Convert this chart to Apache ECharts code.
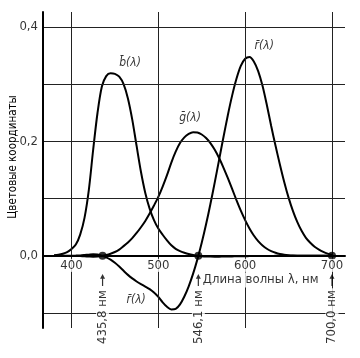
<!DOCTYPE html>
<html>
<head>
<meta charset="utf-8">
<script src="https://cdn.jsdelivr.net/npm/echarts@6/dist/echarts.min.js"></script>
<style>html,body{margin:0;padding:0;background:#fff;}#c{width:360px;height:358px;}</style>
</head>
<body>
<div id="c"></div>
<script>
const wavelengths = [380,385,390,395,400,405,410,415,420,425,430,435,440,445,450,455,460,465,470,475,480,485,490,495,500,505,510,515,520,525,530,535,540,545,550,555,560,565,570,575,580,585,590,595,600,605,610,615,620,625,630,635,640,645,650,655,660,665,670,675,680,685,690,695,700];
const rBar = [0.0000,0.0001,0.0001,0.0002,0.0003,0.0005,0.0008,0.0014,0.0021,0.0027,0.0022,0.0004,-0.0026,-0.0067,-0.0121,-0.0187,-0.0261,-0.0332,-0.0393,-0.0447,-0.0494,-0.0536,-0.0581,-0.0641,-0.0717,-0.0812,-0.0890,-0.0936,-0.0926,-0.0847,-0.0710,-0.0532,-0.0315,-0.0061,0.0228,0.0551,0.0906,0.1284,0.1677,0.2072,0.2453,0.2799,0.3093,0.3318,0.3443,0.3476,0.3397,0.3227,0.2971,0.2635,0.2268,0.1923,0.1597,0.1291,0.1017,0.0786,0.0593,0.0437,0.0315,0.0229,0.0160,0.0110,0.0070,0.0040,0.0020];
const gBar = [0.0000,0.0000,0.0000,-0.0001,-0.0001,-0.0002,-0.0004,-0.0007,-0.0011,-0.0014,-0.0012,-0.0002,0.0015,0.0038,0.0068,0.0110,0.0170,0.0235,0.0310,0.0400,0.0500,0.0610,0.0740,0.0880,0.1030,0.1210,0.1410,0.1630,0.1820,0.1970,0.2070,0.2130,0.2160,0.2155,0.2120,0.2059,0.1970,0.1852,0.1709,0.1543,0.1361,0.1169,0.0975,0.0791,0.0625,0.0478,0.0356,0.0258,0.0183,0.0125,0.0083,0.0054,0.0033,0.0020,0.0012,0.0007,0.0004,0.0002,0.0001,0.0001,0.0000,0.0000,0.0000,0.0000,0.0000];
const bBar = [0.0012,0.0019,0.0036,0.0065,0.0121,0.0197,0.0371,0.0664,0.1154,0.1858,0.2500,0.2960,0.3140,0.3190,0.3180,0.3130,0.3000,0.2750,0.2380,0.1920,0.1470,0.1100,0.0826,0.0625,0.0478,0.0369,0.0270,0.0184,0.0122,0.0083,0.0055,0.0032,0.0015,0.0002,-0.0006,-0.0011,-0.0013,-0.0014,-0.0014,-0.0012,-0.0011,-0.0009,-0.0008,-0.0006,-0.0005,-0.0004,-0.0003,-0.0002,-0.0002,-0.0001,-0.0001,0,0,0,0,0,0,0,0,0,0,0,0,0,0];
const xTicks = [400,500,600,700];
const yTicks = [0, 0.2, 0.4];
const gridY = [-0.1, 0.1, 0.2, 0.3, 0.4];
const markers = [435.8, 546.1, 700.0];
const markerTexts = ['435,8 нм', '546,1 нм', '700,0 нм'];
const curveNames = ['b\u0304(λ)', 'g\u0304(λ)', 'r\u0304(λ)', 'r\u0304(λ)'];
const curveNameAt = [[467.5, 0.337], [536.5, 0.241], [622, 0.366], [474.5, -0.077]];
const xTitle = 'Длина волны λ, нм';
const yTitle = 'Цветовые координаты';

const X_MIN = 367.2, X_MAX = 715, Y_MIN = -0.126, Y_MAX = 0.426;
const FONT = 'DejaVu Sans Condensed';
const pairs = arr => wavelengths.map((w, i) => [w, arr[i]]);
const curve = arr => ({
  type: 'line', data: pairs(arr), smooth: 0.3, symbol: 'none', z: 3,
  lineStyle: { color: '#000', width: 2 }, silent: true
});
const arrowPath = 'path://M5,0 L10,9 L6.2,9 L6.2,22 L3.8,22 L3.8,9 L0,9 Z';
const textBase = { color: '#000', fontFamily: FONT, fontSize: 13 };

const chart = echarts.init(document.getElementById('c'), null, { renderer: 'canvas' });
chart.setOption({
  animation: false,
  backgroundColor: '#fff',
  grid: { left: 43, right: 15, top: 12, bottom: 30, containLabel: false },
  xAxis: {
    type: 'value', min: X_MIN, max: X_MAX, z: 6,
    axisLine: { show: true, onZero: true, lineStyle: { color: '#000', width: 2 } },
    axisTick: { show: false }, splitLine: { show: false }, axisLabel: { show: false }
  },
  yAxis: {
    type: 'value', min: Y_MIN, max: Y_MAX, z: 6,
    axisLine: { show: true, onZero: false, lineStyle: { color: '#000', width: 2 } },
    axisTick: { show: false }, splitLine: { show: false }, axisLabel: { show: false }
  },
  graphic: [{
    type: 'text', x: 13, y: 157, rotation: Math.PI / 2, z: 10,
    style: { text: yTitle, fill: '#000', font: '11.5px "' + FONT + '"', align: 'center', verticalAlign: 'middle' }
  }],
  series: [
    {
      type: 'line', data: [], z: 1, silent: true,
      markLine: {
        silent: true, symbol: 'none', animation: false,
        label: { show: false },
        lineStyle: { color: '#222', width: 1, type: 'solid' },
        data: gridY.map(v => ({ yAxis: v })).concat(xTicks.map(v => ({ xAxis: v })))
      }
    },
    curve(rBar), curve(gBar), curve(bBar),
    {
      type: 'scatter', z: 5, silent: true,
      data: markers.map(m => [m, 0]),
      symbol: 'circle', symbolSize: 8,
      itemStyle: { color: '#000' }
    },
    {
      type: 'scatter', z: 8, silent: true, symbolSize: 0,
      data: xTicks.map(v => ({ value: [v, 0], name: String(v) })),
      label: Object.assign({ show: true, position: 'bottom', distance: 3, formatter: p => p.name,
        backgroundColor: '#fff', padding: [0, 1] }, textBase)
    },
    {
      type: 'scatter', z: 8, silent: true, symbolSize: 0,
      data: yTicks.map(v => ({ value: [X_MIN, v], name: v.toFixed(1).replace('.', ',') })),
      label: Object.assign({ show: true, position: 'left', distance: 5, formatter: p => p.name }, textBase)
    },
    {
      type: 'scatter', z: 7, silent: true,
      data: markers.map((m, i) => ({
        value: [m, -0.042],
        label: i === 1 ? Object.assign({
          show: true, position: 'right', distance: 1, formatter: xTitle,
          backgroundColor: '#fff', padding: [1, 1]
        }, textBase) : { show: false }
      })),
      symbol: arrowPath, symbolSize: [5, 12],
      itemStyle: { color: '#000' }
    },
    {
      type: 'scatter', z: 7, silent: true,
      data: markers.map((m, i) => ({ value: [m, -0.107], name: markerTexts[i] })),
      symbolSize: 0,
      label: Object.assign({
        show: true, position: 'inside', rotate: 90, formatter: p => p.name,
        backgroundColor: '#fff', padding: [0, 2]
      }, textBase)
    },
    {
      type: 'scatter', z: 7, silent: true,
      data: curveNameAt.map((a, i) => ({ value: a, name: curveNames[i] })),
      symbolSize: 0,
      label: {
        show: true, position: 'inside', formatter: p => p.name,
        color: '#000', fontFamily: FONT, fontSize: 12, fontStyle: 'italic'
      }
    }
  ]
});
</script>
</body>
</html>
